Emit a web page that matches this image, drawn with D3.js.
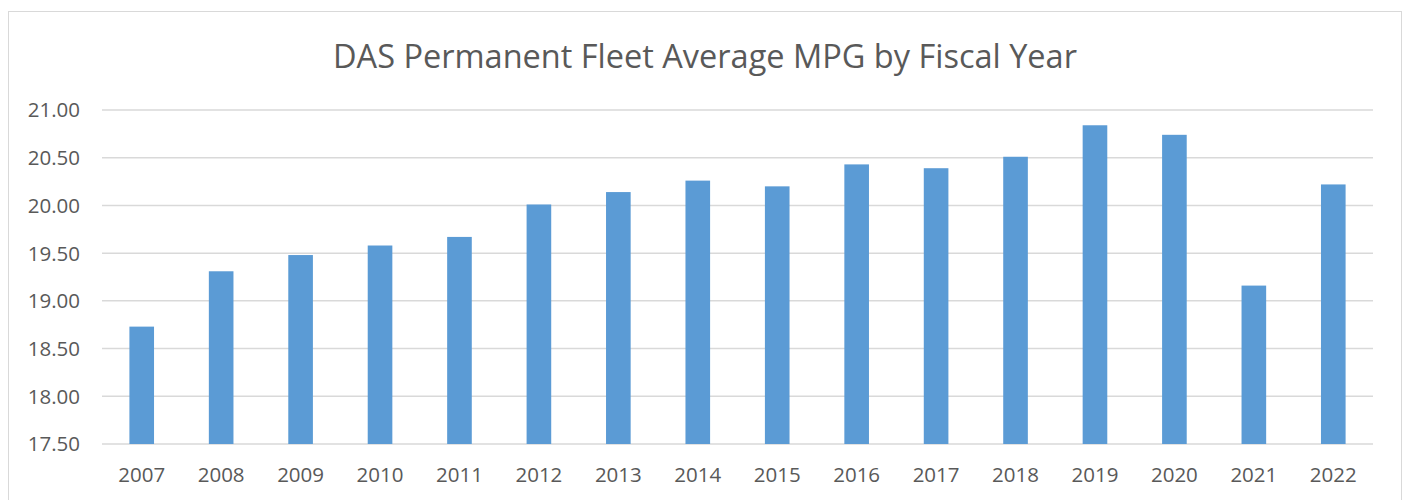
<!DOCTYPE html>
<html>
<head>
<meta charset="utf-8">
<script src="https://cdn.jsdelivr.net/npm/d3@7"></script>
<style>
  body { margin: 0; background: #fff; }
  text { font-family: "Open Sans", "Liberation Sans", sans-serif; fill: #595959; }
</style>
</head>
<body>
<div id="chart"></div>
<script>
var width = 1406
var height = 500

// data
var years = ["2007","2008","2009","2010","2011","2012","2013","2014","2015","2016","2017","2018","2019","2020","2021","2022"]
var mpg = [18.73, 19.31, 19.48, 19.58, 19.67, 20.01, 20.14, 20.26, 20.20, 20.43, 20.39, 20.51, 20.84, 20.74, 19.16, 20.22]
var yTicks = [17.5, 18.0, 18.5, 19.0, 19.5, 20.0, 20.5, 21.0]
var title = "DAS Permanent Fleet Average MPG by Fiscal Year"

var svg = d3.select("#chart").append("svg")
    .attr("width", width)
    .attr("height", height)

// chart frame
svg.append("rect")
    .attr("x", 8.5).attr("y", 11.5)
    .attr("width", 1393).attr("height", 520)
    .attr("fill", "none")
    .attr("stroke", "#d9d9d9")

var x = d3.scaleBand()
    .domain(years)
    .range([102, 1373])
    .paddingInner(0.69)
    .paddingOuter(0.345)

var y = d3.scaleLinear()
    .domain([17.5, 21])
    .range([444, 110])

// gridlines
svg.append("g").selectAll("line")
  .data(yTicks)
  .enter().append("line")
    .attr("x1", 102).attr("x2", 1373)
    .attr("y1", function(d) { return y(d); })
    .attr("y2", function(d) { return y(d); })
    .attr("stroke", "#d9d9d9")
    .attr("stroke-width", 1.5)

// y tick labels
svg.append("g").selectAll("text")
  .data(yTicks)
  .enter().append("text")
    .attr("x", 80)
    .attr("y", function(d) { return y(d); })
    .attr("dy", "0.36em")
    .attr("text-anchor", "end")
    .style("font-size", "20.5px")
    .text(function(d) { return d3.format(".2f")(d); })

// bars
svg.append("g").selectAll("rect")
  .data(years)
  .enter().append("rect")
    .attr("x", function(d) { return x(d); })
    .attr("width", x.bandwidth())
    .attr("y", function(d, i) { return y(mpg[i]); })
    .attr("height", function(d, i) { return y(17.5) - y(mpg[i]); })
    .attr("fill", "#5b9bd5")

// x labels
svg.append("g").selectAll("text")
  .data(years)
  .enter().append("text")
    .attr("x", function(d) { return x(d) + x.bandwidth() / 2; })
    .attr("y", 482)
    .attr("text-anchor", "middle")
    .style("font-size", "20.5px")
    .text(function(d) { return d; })

// title
svg.append("text")
    .attr("x", 705)
    .attr("y", 68)
    .attr("text-anchor", "middle")
    .style("font-size", "32.5px")
    .text(title)
</script>
</body>
</html>
